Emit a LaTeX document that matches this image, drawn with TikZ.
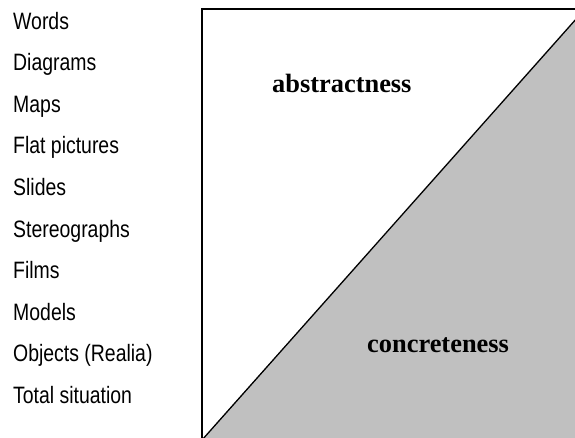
\documentclass[tikz,border=0pt]{standalone}
\usepackage{fontspec}
\newfontfamily\listfont[FakeStretch=0.82]{Liberation Sans}
\newfontfamily\boldserif{Liberation Serif}
\definecolor{trigray}{RGB}{192,192,192}
\begin{document}
\begin{tikzpicture}[x=1pt,y=-1pt,
  listitem/.style={anchor=base west,inner sep=0pt,font=\listfont\fontsize{23.7}{26}\selectfont},
  bigword/.style={anchor=base west,inner sep=0pt,font=\boldserif\bfseries\fontsize{26.4}{29}\selectfont},
  boxline/.style={draw=black,line width=2.2pt},
  diagline/.style={draw=black,line width=1.3pt}]
\useasboundingbox (0,0) rectangle (575,437);
\begin{scope}
\clip (0,0) rectangle (575,437);
\coordinate (bl) at (202,440);
\coordinate (tr) at (585,9);
\coordinate (br) at (585,440);
\coordinate (tl) at (202,9);
\fill[fill=trigray] (bl) -- (tr) -- (br) -- cycle;
\draw[diagline] (bl) -- (tr);
\draw[boxline] (bl) -- (tl) -- (tr) -- (br) -- cycle;
\end{scope}
\foreach \t [count=\i from 0] in {Words,Diagrams,Maps,Flat pictures,Slides,Stereographs,Films,Models,Objects (Realia),Total situation}{
  \node[listitem] (item\i) at (13,29+41.6*\i) {\t};
}
\node[bigword] (abstract) at (272,92) {abstractness};
\node[bigword] (concrete) at (367,352) {concreteness};
\end{tikzpicture}
\end{document}
